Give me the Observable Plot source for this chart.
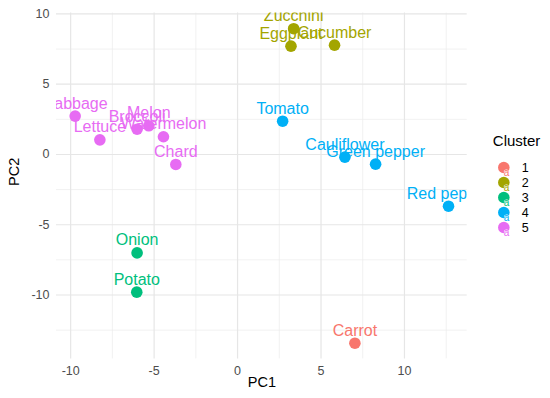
<!DOCTYPE html>
<html><head><meta charset="utf-8">
<script src="https://cdn.jsdelivr.net/npm/d3@7"></script>
<script src="https://cdn.jsdelivr.net/npm/@observablehq/plot@0.6"></script>
<style>
body{margin:0;background:#fff;}
#chart{position:relative;width:550px;height:398px;font-family:"Liberation Sans",Arial,sans-serif;}
#legend{position:absolute;left:480px;top:120px;}
#main svg, #legend svg{display:block;}
</style></head><body>
<div id="chart"><div id="main"></div><div id="legend"></div></div>
<script>
const names = ["Cabbage","Lettuce","Broccoli","Melon","Watermelon","Chard","Zucchini","Eggplant","Cucumber","Tomato","Cauliflower","Green pepper","Red pepper","Carrot","Onion","Potato"];
const pc1 = [-9.73,-8.25,-6.02,-5.32,-4.44,-3.70,3.36,3.20,5.81,2.70,6.43,8.27,12.64,7.03,-6.02,-6.04];
const pc2 = [2.73,1.04,1.80,2.04,1.26,-0.71,8.95,7.71,7.78,2.37,-0.19,-0.69,-3.68,-13.43,-7.00,-9.80];
const cluster = ["5","5","5","5","5","5","2","2","2","4","4","4","4","1","3","3"];
const clusters = ["1","2","3","4","5"];
const clusterColors = ["#F8766D","#A3A500","#00BF7D","#00B0F6","#E76BF3"];
const xMajor = [-10,-5,0,5,10];
const xMinor = [-7.5,-2.5,2.5,7.5,12.5];
const yMajor = [-10,-5,0,5,10];
const yMinor = [-12.5,-7.5,-2.5,2.5,7.5];
const xTitle = "PC1";
const yTitle = "PC2";
const legendTitle = "Cluster";

const data = names.map((name, i) => ({name, pc1: pc1[i], pc2: pc2[i], cluster: cluster[i]}));
function expand(arr) { const [a, b] = d3.extent(arr); const p = (b - a) * 0.05; return [a - p, b + p]; }
const font = "'Liberation Sans', Arial, Helvetica, sans-serif";
const fmt = d => String(d);

const main = Plot.plot({
  width: 550, height: 398,
  marginLeft: 56, marginRight: 83.3, marginTop: 12.5, marginBottom: 39.6,
  style: {fontFamily: font, background: "#fff"},
  x: {domain: expand(pc1)},
  y: {domain: expand(pc2)},
  color: {domain: clusters, range: clusterColors},
  marks: [
    Plot.gridX(xMinor, {stroke: "#EBEBEB", strokeOpacity: 1, strokeWidth: 0.7}),
    Plot.gridY(yMinor, {stroke: "#EBEBEB", strokeOpacity: 1, strokeWidth: 0.7}),
    Plot.gridX(xMajor, {stroke: "#E6E6E6", strokeOpacity: 1, strokeWidth: 1.2}),
    Plot.gridY(yMajor, {stroke: "#E6E6E6", strokeOpacity: 1, strokeWidth: 1.2}),
    Plot.axisX(xMajor, {tickSize: 0, tickPadding: 7, fontSize: 12.5, color: "#4D4D4D", label: null, tickFormat: fmt}),
    Plot.axisY(yMajor, {tickSize: 0, tickPadding: 7, fontSize: 12.5, color: "#4D4D4D", label: null, tickFormat: fmt}),
    Plot.dot(data, {x: "pc1", y: "pc2", r: 5.8, fill: "cluster"}),
    Plot.text(data, {x: "pc1", y: "pc2", text: "name", fill: "cluster", fontSize: 16, dy: -12.5, clip: true}),
    Plot.text([xTitle], {text: d => d, frameAnchor: "bottom", dy: 28.3, fontSize: 14.5, fill: "#000"}),
    Plot.text([yTitle], {text: d => d, frameAnchor: "left", dx: -42.5, rotate: -90, fontSize: 14.5, fill: "#000"})
  ]
});
document.getElementById("main").appendChild(main);

const legend = Plot.plot({
  width: 70, height: 125,
  marginLeft: 23.3, marginRight: 23.4, marginTop: 0, marginBottom: 0,
  style: {fontFamily: font, background: "transparent"},
  y: {type: "point", domain: clusters, range: [39, 114.3], axis: null},
  color: {domain: clusters, range: clusterColors},
  marks: [
    Plot.text([legendTitle], {text: d => d, frameAnchor: "top-left", dx: -11, dy: 15.3, textAnchor: "start", fontSize: 15, fill: "#000"}),
    Plot.dot(clusters, {y: d => d, frameAnchor: "left", r: 5.8, fill: d => d}),
    Plot.text(clusters, {y: d => d, text: () => "a", frameAnchor: "left", dy: 5, fontSize: 10, fill: d => d, stroke: "#fff", strokeWidth: 0.8, paintOrder: "stroke"}),
    Plot.text(clusters, {y: d => d, text: d => d, frameAnchor: "left", dx: 18, textAnchor: "start", fontSize: 12.5, fill: "#000"})
  ]
});
document.getElementById("legend").appendChild(legend);
</script>
</body></html>
